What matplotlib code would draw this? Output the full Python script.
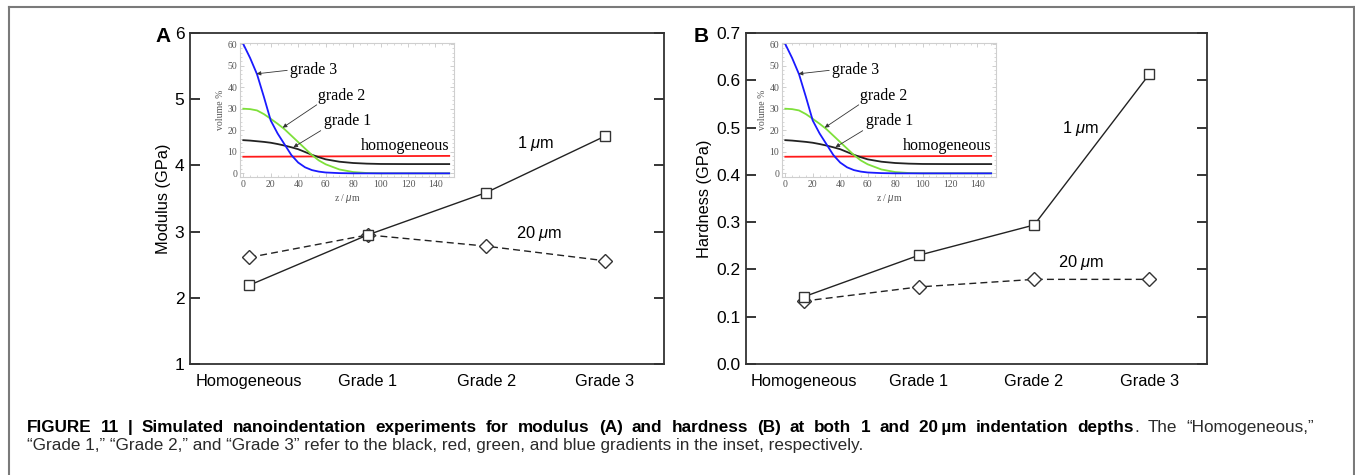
import matplotlib
matplotlib.use("Agg")
import matplotlib.pyplot as plt
from matplotlib.lines import Line2D
from matplotlib.ticker import MultipleLocator

plt.rcParams['font.family'] = ['Liberation Sans', 'DejaVu Sans']
plt.rcParams['mathtext.fontset'] = 'custom'
plt.rcParams['mathtext.rm'] = 'Liberation Sans'
plt.rcParams['mathtext.it'] = 'Liberation Sans:italic'

# main panels
categories = ['Homogeneous', 'Grade 1', 'Grade 2', 'Grade 3']
modulus_1um = [2.19, 2.95, 3.59, 4.44]
modulus_20um = [2.61, 2.95, 2.78, 2.56]
hardness_1um = [0.142, 0.230, 0.294, 0.613]
hardness_20um = [0.133, 0.163, 0.179, 0.179]

# inset: volume % vs depth z (um)
z_pts = [0, 5, 10, 15, 20, 25, 30, 35, 40, 45, 50, 55, 60, 70, 80, 90, 100, 120, 150]
grade3_vol = [60, 53.5, 46, 35.5, 24.5, 18.5, 13.5, 8.5, 5.0, 2.8, 1.5, 0.8, 0.4, 0.1, 0, 0, 0, 0, 0]
grade2_vol = [30, 29.8, 29.2, 27.5, 25.3, 23.0, 20.5, 17.5, 14.5, 11.5, 8.5, 6.0, 4.2, 1.8, 0.6, 0.15, 0, 0, 0]
grade1_vol = [15.4, 15.2, 14.9, 14.6, 14.2, 13.6, 12.9, 12.1, 11.2, 9.9, 8.6, 7.5, 6.5, 5.4, 4.8, 4.5, 4.35, 4.3, 4.3]
homog_z = [0, 150]
homog_vol = [7.7, 8.1]

W, H = 1355, 475
fig = plt.figure(figsize=(W / 100, H / 100), dpi=100)

# outer frame of the figure box
frame_kw = dict(color='#7a7a7a', lw=1.5, transform=fig.transFigure)
fig.add_artist(Line2D([9 / W, 9 / W], [0, 1 - 6.5 / H], **frame_kw))
fig.add_artist(Line2D([9 / W, 1353.5 / W], [1 - 6.5 / H, 1 - 6.5 / H], **frame_kw))
fig.add_artist(Line2D([1353.5 / W, 1353.5 / W], [0, 1 - 6.5 / H], **frame_kw))


def main_panel(rect, y1, y20, ylim, yticks, ylabel, lab1, lab20, fmt):
    ax = fig.add_axes(rect)
    x = list(range(len(categories)))
    ax.plot(x, y20, ls=(0, (5, 3)), color='#222222', lw=1.0, marker='D', ms=7,
            mfc='white', mec='#333333', mew=1.0, zorder=3)
    ax.plot(x, y1, ls='-', color='#222222', lw=1.0, marker='s', ms=7.5,
            mfc='white', mec='#333333', mew=1.0, zorder=4)
    ax.set_xlim(-0.5, 3.5)
    ax.set_ylim(*ylim)
    ax.set_yticks(yticks)
    ax.set_yticklabels([fmt.format(v) for v in yticks])
    ax.set_xticks(x)
    ax.set_xticklabels(categories)
    ax.tick_params(axis='x', length=0, pad=7, labelsize=11.8)
    ax.tick_params(axis='y', direction='in', length=7, width=1.1, left=True,
                   right=True, labelsize=12.5, pad=4)
    for s in ax.spines.values():
        s.set_linewidth(1.3)
        s.set_color('#333333')
    ax.set_ylabel(ylabel, fontsize=11.8, labelpad=3)
    ax.text(lab1[0], lab1[1], '1 $\\mu$m', fontsize=11.8, ha='center', va='center')
    ax.text(lab20[0], lab20[1], '20 $\\mu$m', fontsize=11.8, ha='center', va='center')
    return ax


axA = main_panel([190 / W, 1 - 364 / H, 474 / W, 331 / H], modulus_1um, modulus_20um,
                 (1, 6), [1, 2, 3, 4, 5, 6], 'Modulus (GPa)',
                 (2.42, 4.33), (2.45, 2.97), '{:.0f}')
axB = main_panel([746 / W, 1 - 364 / H, 461 / W, 331 / H], hardness_1um, hardness_20um,
                 (0, 0.7), [0, 0.1, 0.2, 0.3, 0.4, 0.5, 0.6, 0.7], 'Hardness (GPa)',
                 (2.40, 0.499), (2.41, 0.215), '{:.1f}')

fig.text(163.5 / W, 1 - 36 / H, 'A', fontsize=15, fontweight='bold', ha='center', va='center')
fig.text(701.5 / W, 1 - 36 / H, 'B', fontsize=15, fontweight='bold', ha='center', va='center')


def inset(left_px):
    ax = fig.add_axes([left_px / W, 1 - 177 / H, 214 / W, 134 / H])
    ax.plot(homog_z, homog_vol, color='#ff1a1a', lw=1.3)
    ax.plot(z_pts, grade1_vol, color='#222222', lw=1.3)
    ax.plot(z_pts, grade2_vol, color='#7ee03a', lw=1.3)
    ax.plot(z_pts, grade3_vol, color='#1a1aff', lw=1.3)
    ax.set_xlim(-2.4, 153.5)
    ax.set_ylim(-1.7, 60.5)
    ax.xaxis.set_minor_locator(MultipleLocator(5))
    ax.yaxis.set_major_locator(MultipleLocator(10))
    ax.yaxis.set_minor_locator(MultipleLocator(2))
    ax.set_xticks(range(0, 141, 20))
    ax.tick_params(which='both', direction='in', top=True, right=True, color='#c8c8c8',
                   labelsize=7, labelcolor='#555555', pad=2)
    ax.tick_params(which='major', length=3, width=0.6)
    ax.tick_params(which='minor', length=1.5, width=0.5)
    for t in ax.get_xticklabels() + ax.get_yticklabels():
        t.set_fontfamily('Liberation Serif')
    for s in ax.spines.values():
        s.set_color('#cfcfcf')
        s.set_linewidth(0.8)
    ax.set_xlabel('z / $\\mu$m', fontsize=7, family='Liberation Serif', color='#555555', labelpad=2)
    ax.set_ylabel('volume %', fontsize=7, family='Liberation Serif', color='#555555', labelpad=2)
    ann = dict(arrowstyle='-|>', lw=0.6, color='#333333', mutation_scale=6, shrinkA=0, shrinkB=0)
    ax.annotate('', xy=(9.7, 46.2), xytext=(32, 47.8), arrowprops=ann)
    ax.text(34, 47.8, 'grade 3', family='Liberation Serif', fontsize=11.5, va='center')
    ax.annotate('', xy=(28.7, 21.2), xytext=(53.5, 31.8), arrowprops=ann)
    ax.text(54.7, 35.7, 'grade 2', family='Liberation Serif', fontsize=11.5, va='center')
    ax.annotate('', xy=(36.5, 12.1), xytext=(56.4, 19.8), arrowprops=ann)
    ax.text(58.8, 24.5, 'grade 1', family='Liberation Serif', fontsize=11.5, va='center')
    ax.text(150, 12.7, 'homogeneous', family='Liberation Serif', fontsize=11.5,
            va='center', ha='right')
    return ax


inset(240)
inset(782)

# caption: first line justified between x=27 and x=1314, bold lead-in then regular
fig.canvas.draw()
r = fig.canvas.get_renderer()
cap_size = 12.3
bold_part = ('FIGURE 11 | Simulated nanoindentation experiments for modulus (A) and hardness (B) '
             'at both 1 and 20\u2009\u00b5m indentation depths')
reg_words = '. The \u201cHomogeneous,\u201d'.split(' ')

pieces = [(w, 'bold', 'black', True) for w in bold_part.split(' ')]
pieces.append((reg_words[0], 'normal', '#2a2a2a', False))  # period glued to "depths"
for w in reg_words[1:]:
    pieces.append((w, 'normal', '#2a2a2a', True))

widths = []
for w, wt, c, _ in pieces:
    t = fig.text(0, 0, w, fontsize=cap_size, fontweight=wt)
    widths.append(t.get_window_extent(renderer=r).width)
    t.remove()
n_gaps = sum(1 for p in pieces[1:] if p[3])
x0, x1 = 27, 1314
gap = (x1 - x0 - sum(widths)) / n_gaps
x = x0
for i, ((w, wt, c, spaced), wd) in enumerate(zip(pieces, widths)):
    if spaced and i > 0:
        x += gap
    fig.text(x / W, 1 - 432 / H, w, fontsize=cap_size, fontweight=wt, color=c, va='baseline')
    x += wd

fig.text(27 / W, 1 - 450 / H,
         '\u201cGrade 1,\u201d \u201cGrade 2,\u201d and \u201cGrade 3\u201d refer to the black, red, '
         'green, and blue gradients in the inset, respectively.', color='#2a2a2a',
         fontsize=cap_size, va='baseline')

fig.savefig('out.png', dpi=100)
